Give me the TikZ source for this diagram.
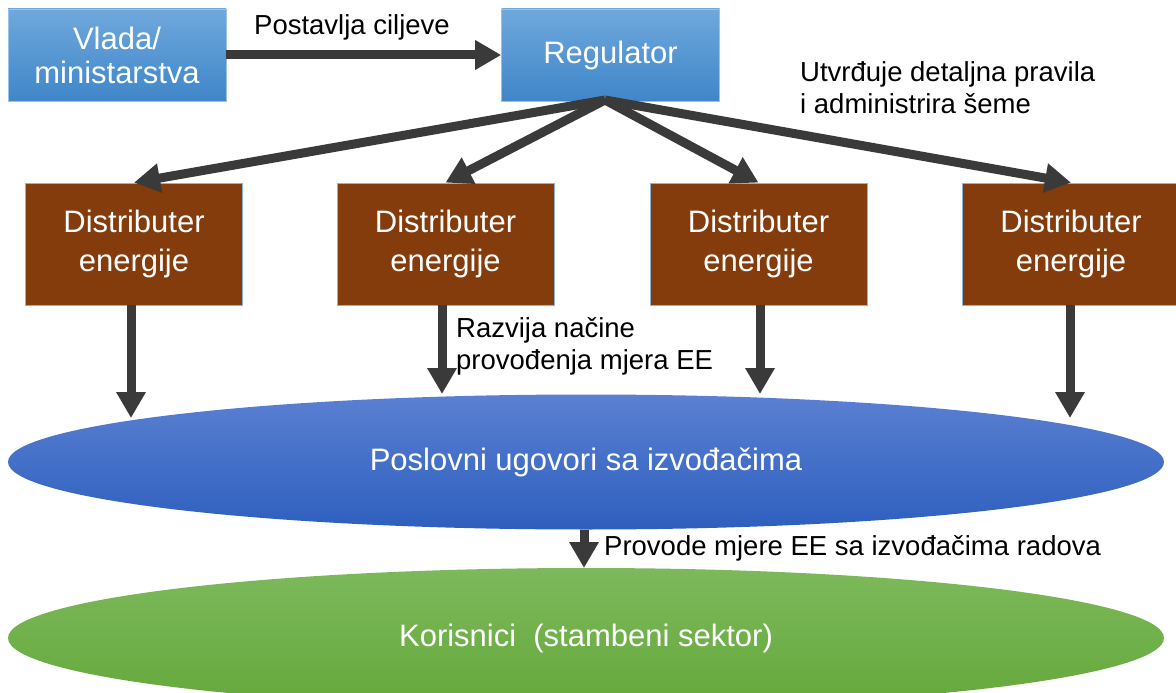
\documentclass[tikz,border=0pt]{standalone}
\usepackage{fontspec}
\setmainfont{Liberation Sans}
\usetikzlibrary{arrows.meta,shapes.geometric}
\definecolor{arrowc}{HTML}{3A3A3A}
\definecolor{bluetop}{HTML}{6FA8DC}
\definecolor{bluebot}{HTML}{3F86C9}
\definecolor{brownc}{HTML}{843C0C}
\definecolor{brownedge}{HTML}{8AB4E0}
\definecolor{elltop}{HTML}{5A80D2}
\definecolor{ellbot}{HTML}{2E5FBE}
\definecolor{greentop}{HTML}{7DB95C}
\definecolor{greenbot}{HTML}{64A83A}
\begin{document}
\begin{tikzpicture}[x=1pt,y=-1pt,
  bluebox/.style={draw=bluetop!70, line width=0.6pt, top color=bluetop, bottom color=bluebot,
    minimum width=218pt, minimum height=92pt, inner sep=0pt, text=white, align=center,
    font=\fontsize{31}{34}\selectfont},
  brownbox/.style={draw=brownedge, line width=0.8pt, fill=brownc,
    minimum width=217pt, minimum height=122pt, inner sep=0pt, text=white, align=center,
    font=\fontsize{31}{39}\selectfont},
  ell/.style={ellipse, draw=none, minimum width=1156pt, inner sep=0pt, text=white,
    font=\fontsize{31}{36}\selectfont},
  arr/.style={draw=arrowc, line width=9pt, -{Triangle[length=26pt,width=28pt]}},
  lbl/.style={font=\fontsize{27.5}{32}\selectfont, text=black, inner sep=0pt, align=left}
]
\clip (0,0) rectangle (1176,693);
\useasboundingbox (0,0) rectangle (1176,693);

% top boxes
\node[bluebox] (vlada) at (117,55) {Vlada/\\ministarstva};
\node[bluebox] (reg) at (610.5,55) {Regulator};

% distributor boxes
\node[brownbox] (d1) at (134,244) {Distributer\\energije};
\node[brownbox] (d2) at (445.5,244) {Distributer\\energije};
\node[brownbox] (d3) at (758.5,244) {Distributer\\energije};
\node[brownbox] (d4) at (1071,244) {Distributer\\energije};

% ellipses
\node[ell, minimum height=135pt, top color=elltop, bottom color=ellbot] (pos) at (586,462)
  {Poslovni ugovori sa izvođačima};
\node[ell, minimum height=140pt, top color=greentop, bottom color=greenbot] (kor) at (586,638)
  {Korisnici\ \ (stambeni sektor)};

% labels
\node[lbl] (l1) at (352,27) {Postavlja ciljeve};
\node[lbl, anchor=west] (l2) at (800,88) {Utvrđuje detaljna pravila\\i administrira šeme};
\node[lbl, anchor=west] (l3) at (456,346) {Razvija načine\\provođenja mjera EE};
\node[lbl, anchor=west] (l4) at (604,548) {Provode mjere EE sa izvođačima radova};

% connectors
\draw[arr] (vlada.east) -- (reg.west);
\coordinate (rp) at (605,100);
\draw[arr] (rp) -- (d1.north);
\draw[arr] (rp) -- (d2.north);
\draw[arr] (rp) -- (d3.north);
\draw[arr] (rp) -- (d4.north);

\coordinate (t1) at (131,418);
\coordinate (t2) at (442,394);
\coordinate (t3) at (760,394);
\coordinate (t4) at (1070,418);
\draw[arr] (d1.south -| t1) -- (t1);
\draw[arr] (d2.south -| t2) -- (t2);
\draw[arr] (d3.south -| t3) -- (t3);
\draw[arr] (d4.south -| t4) -- (t4);

\coordinate (pk) at (584,568);
\draw[arr] (pos.south -| pk) -- (pk);
\end{tikzpicture}
\end{document}
